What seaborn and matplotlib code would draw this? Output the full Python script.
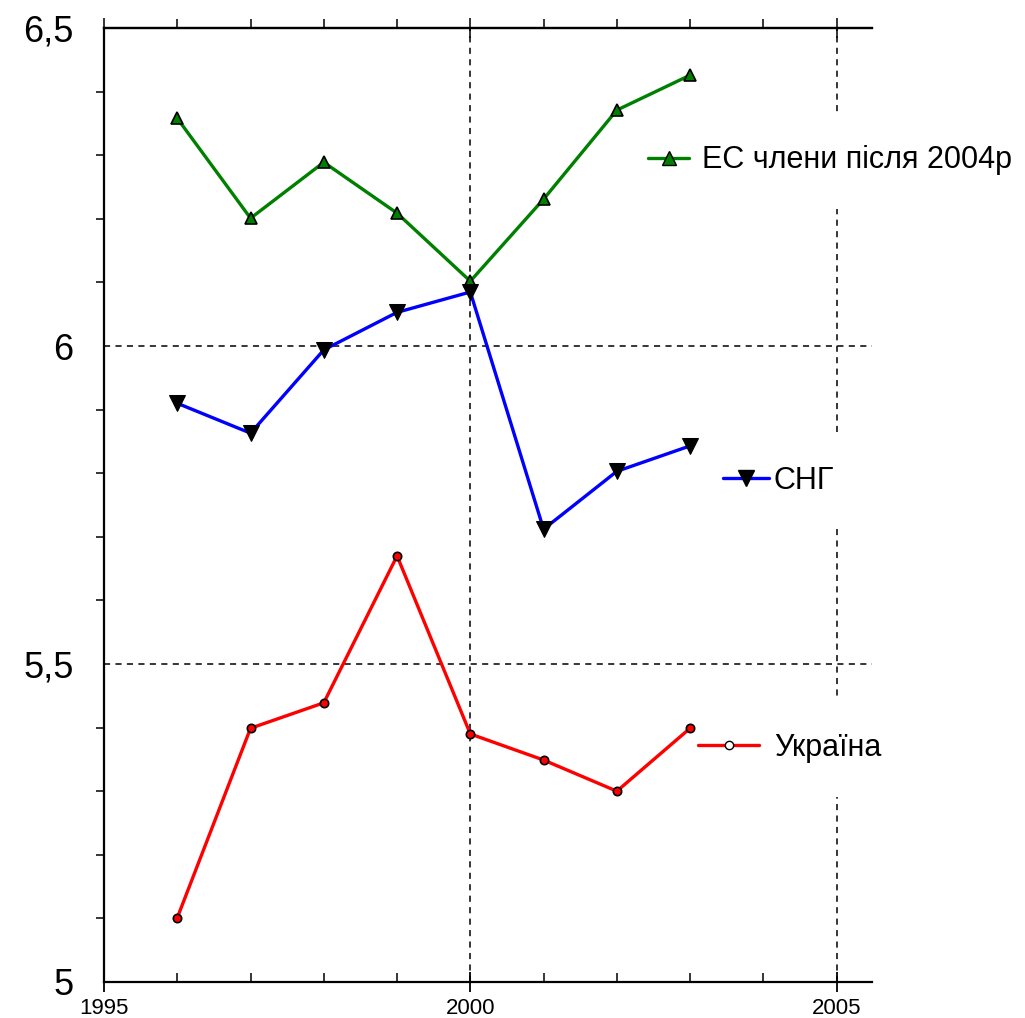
#import libraries
import numpy as np
import pandas as pd
import seaborn as sns
import matplotlib.pyplot as plt
from matplotlib.lines import Line2D
from matplotlib.ticker import MultipleLocator, FixedLocator

# data
years = [1996, 1997, 1998, 1999, 2000, 2001, 2002, 2003]
eu_new = [6.358, 6.201, 6.289, 6.209, 6.102, 6.231, 6.371, 6.426]
cis = [5.910, 5.863, 5.994, 6.053, 6.085, 5.712, 5.803, 5.843]
ukraine = [5.101, 5.399, 5.439, 5.670, 5.390, 5.349, 5.300, 5.399]
names = ["ЕС члени після 2004р", "СНГ", "Україна"]
x_ticks = [1995, 2000, 2005]
x_labels = ["1995", "2000", "2005"]
y_ticks = [5, 5.5, 6, 6.5]
y_labels = ["5", "5,5", "6", "6,5"]

sns.set_style("white")
plt.rcParams['font.family'] = ['Liberation Sans', 'DejaVu Sans']
plt.rcParams['text.color'] = 'black'

fig = plt.figure(figsize=(10.25, 10.18), dpi=100)
ax = fig.add_axes([0.1015, 0.0354, 0.749, 0.937])

#draw the three lines
sns.lineplot(x=years, y=eu_new, color="#008000", linewidth=2.4, marker="^", markersize=9,
             markeredgecolor="black", markeredgewidth=1.2, ax=ax, zorder=3)
sns.lineplot(x=years, y=cis, color="#0000ff", linewidth=2.4, marker="v", markersize=12,
             markerfacecolor="black", markeredgecolor="black", ax=ax, zorder=3)
sns.lineplot(x=years, y=ukraine, color="#ff0000", linewidth=2.4, marker="o", markersize=6,
             markeredgecolor="black", markeredgewidth=1.2, ax=ax, zorder=3)

ax.set_xlim(1995, 2005.48)
ax.set_ylim(5, 6.5)

# axes look
for s in ["left", "bottom", "top"]:
    ax.spines[s].set_color("black")
    ax.spines[s].set_linewidth(1.6)
ax.spines["right"].set_visible(False)

ax.xaxis.set_major_locator(FixedLocator(x_ticks))
ax.set_xticklabels(x_labels)
ax.xaxis.set_minor_locator(MultipleLocator(1))
ax.yaxis.set_major_locator(FixedLocator(y_ticks))
ax.set_yticklabels(y_labels)
ax.yaxis.set_minor_locator(MultipleLocator(0.1))

ax.tick_params(axis="x", which="major", direction="inout", length=15, width=1.3,
               labelsize=16, pad=4, colors="black")
ax.tick_params(axis="x", which="minor", direction="in", length=6.5, width=1.3)
ax.tick_params(axis="y", which="major", direction="inout", length=16, width=1.3,
               labelsize=26, pad=14, colors="black")
ax.tick_params(axis="y", which="minor", direction="out", length=6, width=1.3, left=True)
ax.tick_params(axis="x", which="both", bottom=True)

top = ax.secondary_xaxis("top")
top.xaxis.set_major_locator(FixedLocator(x_ticks))
top.xaxis.set_minor_locator(MultipleLocator(1))
top.tick_params(which="major", direction="inout", length=15, width=1.3, labeltop=False)
top.tick_params(which="minor", direction="out", length=6.5, width=1.3)
top.spines["top"].set_linewidth(1.6)

ax.set_xlabel("")
ax.set_ylabel("")
ax.grid(True, which="major", color="black", linestyle=(0, (4, 3.5)), linewidth=1.1)
ax.set_axisbelow(True)

# inline legends
legend_specs = [
    (Line2D([], [], color="#008000", lw=2.4, marker="^", ms=10, mec="black"),
     names[0], (2001.97, 6.292), 1.35, 0.4),
    (Line2D([], [], color="#0000ff", lw=2.4, marker="v", ms=12, mfc="black", mec="black"),
     names[1], (2002.99, 5.788), 1.5, 0.15),
    (Line2D([], [], color="#ff0000", lw=2.4, marker="o", ms=6, mfc="white", mec="black"),
     names[2], (2002.65, 5.368), 2.0, 0.5),
]
for handle, label, anchor, hl, tp in legend_specs:
    leg = ax.legend([handle], [label], loc="center left", bbox_to_anchor=anchor,
                    bbox_transform=ax.transData, frameon=True, fancybox=False,
                    facecolor="white", edgecolor="none", framealpha=1, fontsize=22,
                    borderpad=1.1, borderaxespad=0, handlelength=hl, handletextpad=tp,
                    labelcolor="black")
    leg.set_zorder(1.5)
    ax.add_artist(leg)

plt.savefig("out.png", dpi=100)
